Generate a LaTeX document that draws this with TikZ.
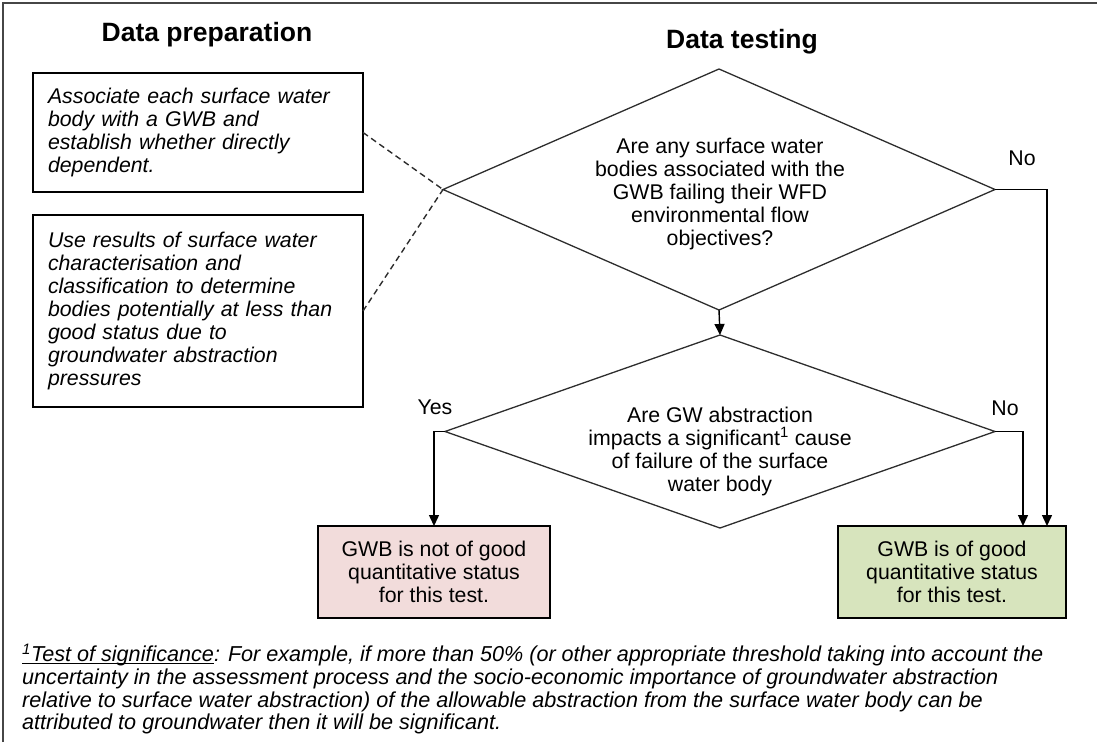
\documentclass[tikz,border=0pt]{standalone}
\usepackage{fontspec}
\setmainfont{Liberation Sans}
\usetikzlibrary{arrows.meta,shapes.geometric}
\definecolor{redfill}{RGB}{242,220,219}
\definecolor{greenfill}{RGB}{215,228,189}
\definecolor{diagray}{RGB}{45,45,45}
\definecolor{framegray}{RGB}{70,70,70}
\begin{document}
\begin{tikzpicture}[x=1pt,y=-1pt,
  txt/.style={font=\fontsize{21.3}{23}\selectfont},
  title/.style={font=\fontsize{26.5}{29}\selectfont\bfseries},
  prepbox/.style={draw=black, line width=1.4pt, align=left, text width=300pt,
    inner xsep=15pt, inner ysep=0pt, minimum width=330pt, anchor=north west, outer sep=0pt,
    font=\fontsize{21.3}{23}\selectfont\itshape},
  resbox/.style={draw=black, line width=1.4pt, txt, align=center, inner sep=0pt, outer sep=0pt},
  dia/.style={diamond, draw=diagray, line width=1.3pt, inner sep=0pt, outer sep=0pt},
  arr/.style={draw=black, line width=1.4pt, -{Triangle[length=11pt,width=10pt]}},
  dashline/.style={draw=diagray, line width=1.4pt, dash pattern=on 6pt off 4pt},
  lbl/.style={txt}]
\useasboundingbox (0,0) rectangle (1097,742);
\draw[line width=2pt, framegray] (3,742) -- (3,3) -- (1097,3);

\node[title] (t1) at (207,35) {Data preparation};
\node[title] (t2) at (742,42) {Data testing};

\node[prepbox, minimum height=119pt] (p1) at (33,73)
  {Associate each surface water\\body with a GWB and\\establish whether directly\\dependent.};
\node[prepbox, minimum height=192pt] (p2) at (33,215)
  {Use results of surface water\\characterisation and\\classification to determine\\bodies potentially at less than\\good status due to\\groundwater abstraction\\pressures};

\node[dia, minimum width=552pt, minimum height=241pt] (q1) at (719,189.5) {};
\node[txt, align=center] (q1t) at (720,194)
  {Are any surface water\\bodies associated with the\\GWB failing their WFD\\environmental flow\\objectives?};

\node[dia, minimum width=550pt, minimum height=193pt] (q2) at (720,431.5) {};
\node[txt, align=center] (q2t) at (720,451)
  {Are GW abstraction\\impacts a significant\textsuperscript{1} cause\\of failure of the surface\\water body};

\node[resbox, fill=redfill, minimum width=232pt, minimum height=92pt] (bad) at (434,572)
  {GWB is not of good\\quantitative status\\for this test.};
\node[resbox, fill=greenfill, minimum width=228pt, minimum height=92pt] (good) at (952,572)
  {GWB is of good\\quantitative status\\for this test.};

\node[lbl] (no1) at (1022,158) {No};
\node[lbl] (yes2) at (435,407) {Yes};
\node[lbl] (no2) at (1005,408) {No};

\draw[dashline] (p1.east) -- (q1.west);
\draw[dashline] (p2.east) -- (q1.west);

\draw[arr] (q1.south) -- (q2.north);
\draw[arr] (q1.east) -| ([xshift=-19pt]good.north east);
\draw[arr] (q2.east) -| ([xshift=-43pt]good.north east);
\draw[arr] (q2.west) -| (bad.north);

\node[anchor=north west, align=left, inner sep=0pt, font=\fontsize{21.6}{22.7}\selectfont\itshape] (fn) at (22,646)
  {\underline{\smash{\textsuperscript{1}Test of significance}}: For example, if more than 50\% (or other appropriate threshold taking into account the\\
   uncertainty in the assessment process and the socio-economic importance of groundwater abstraction\\
   relative to surface water abstraction) of the allowable abstraction from the surface water body can be\\
   attributed to groundwater then it will be significant.};
\end{tikzpicture}
\end{document}
